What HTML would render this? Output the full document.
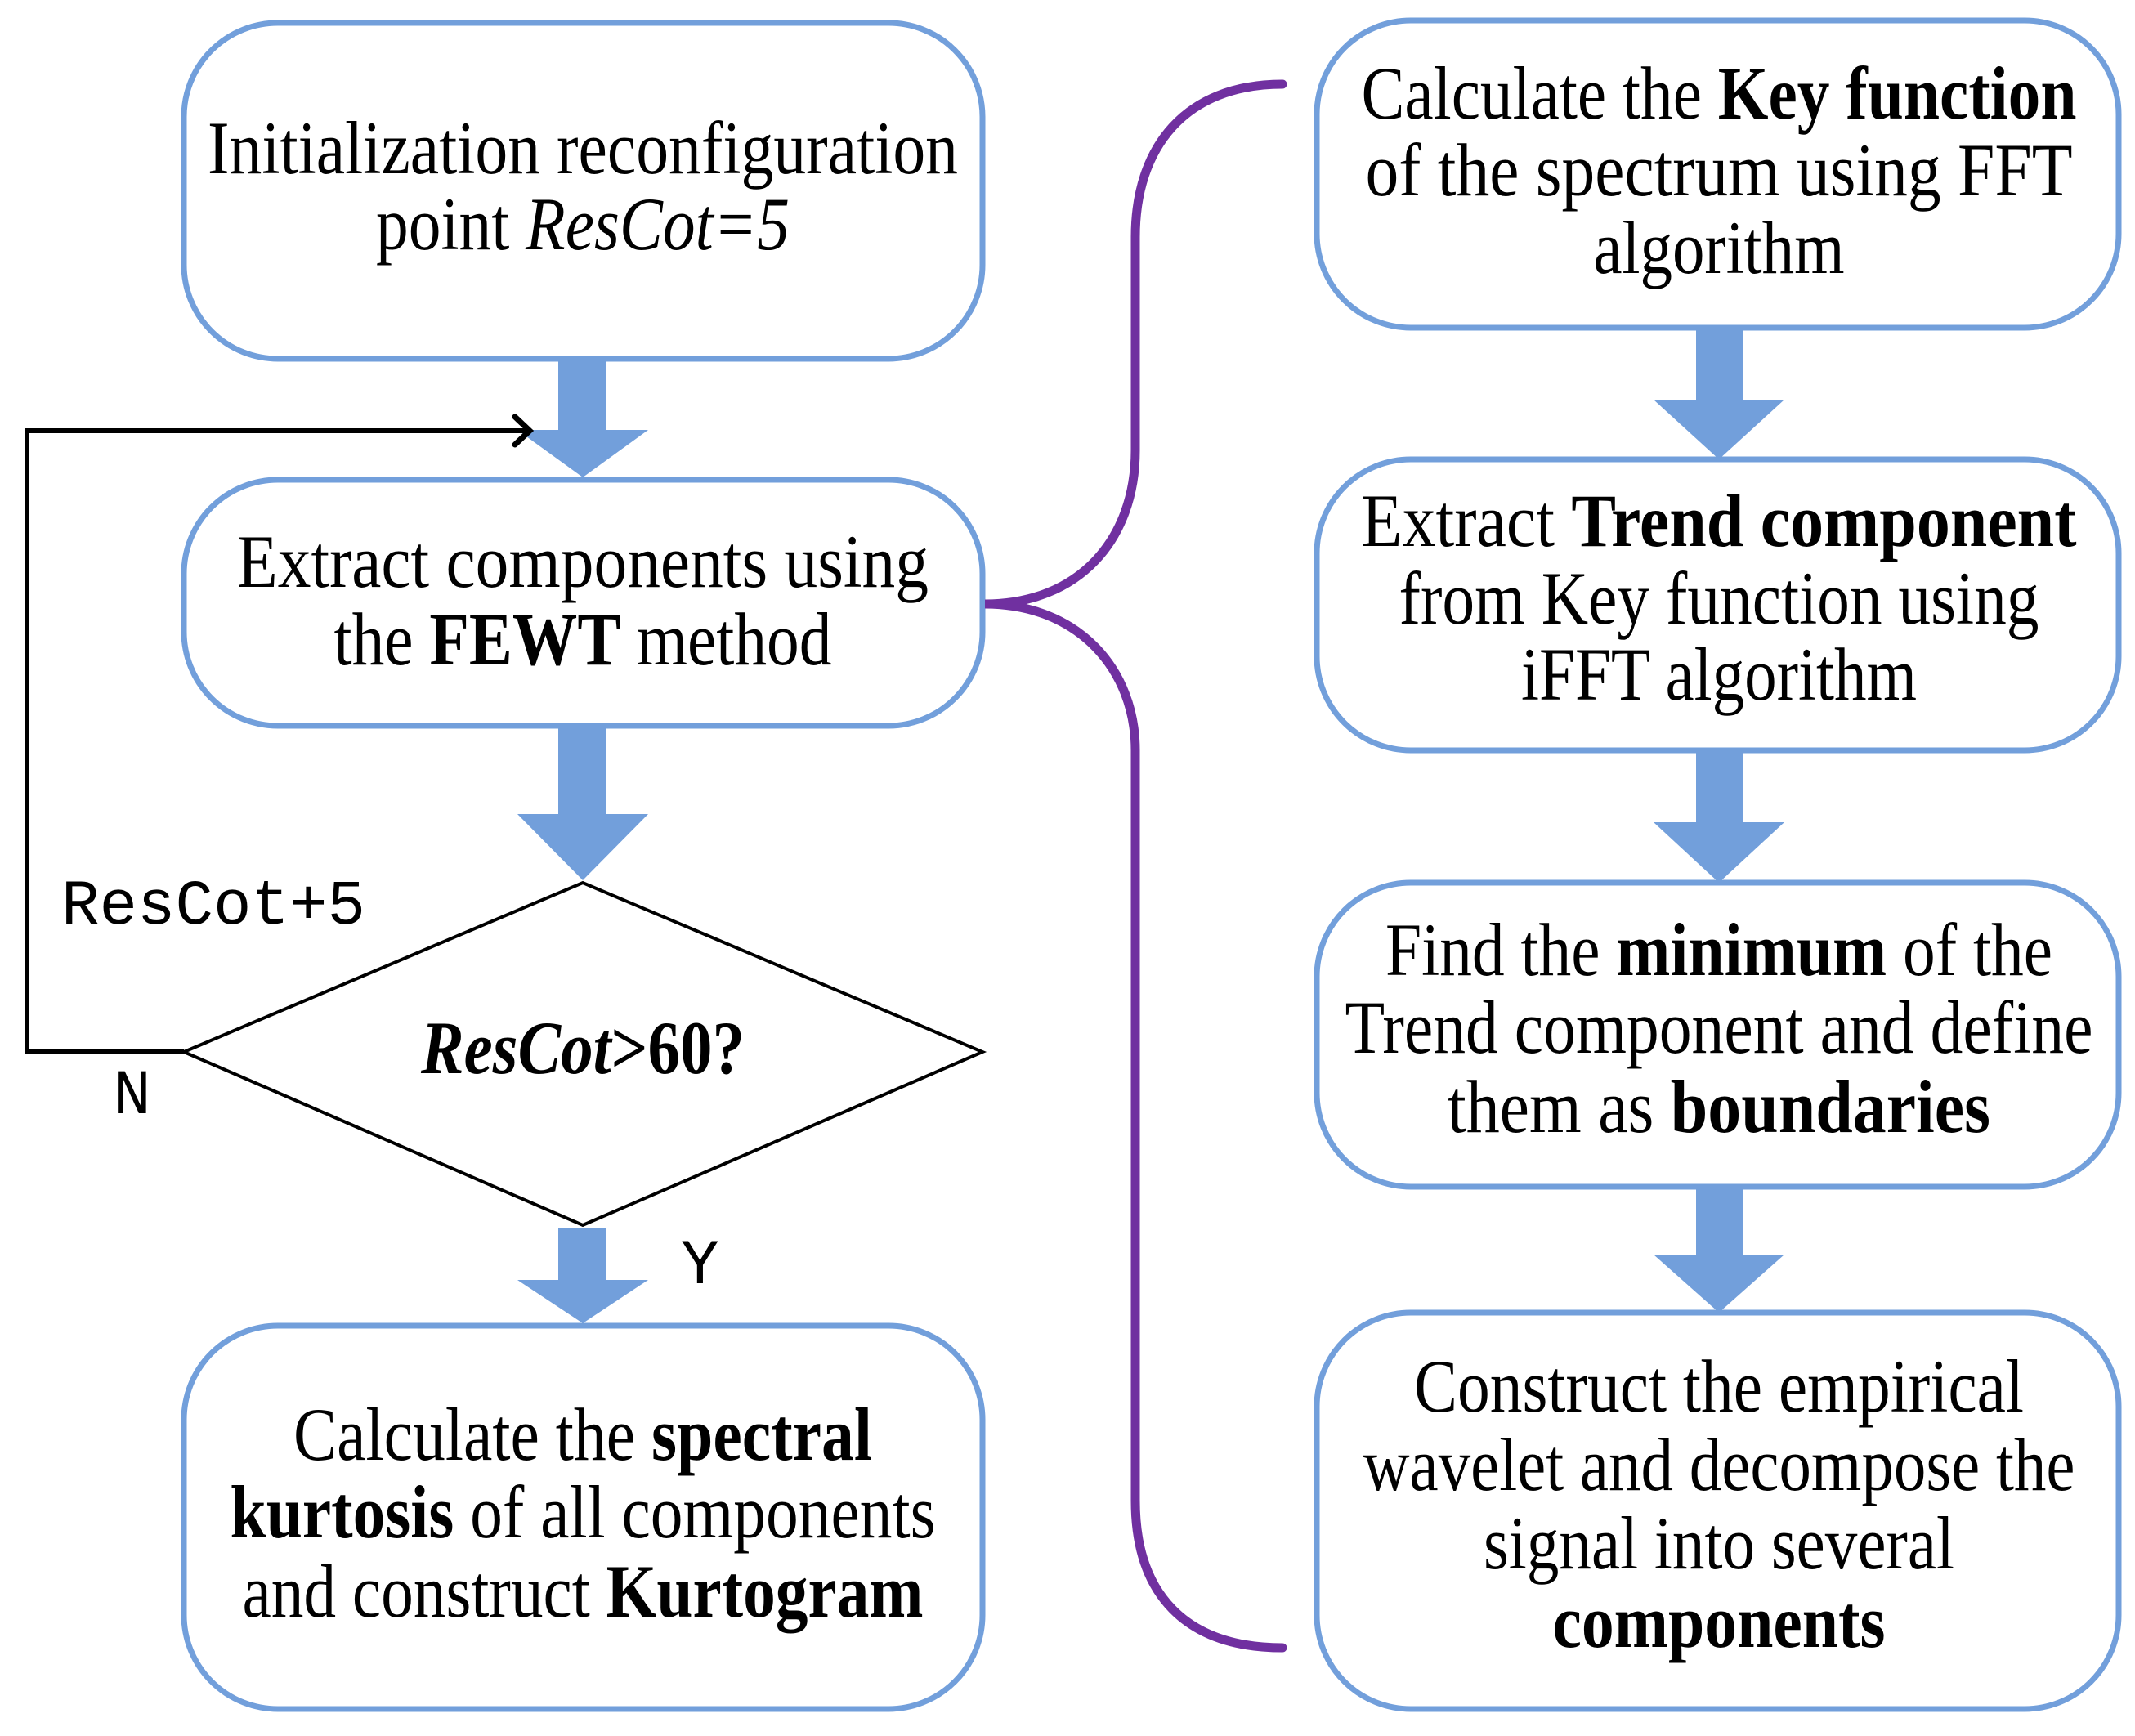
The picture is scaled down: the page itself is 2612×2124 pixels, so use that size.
<!DOCTYPE html>
<html><head><meta charset="utf-8"><style>html,body{margin:0;padding:0;background:#fff}svg{display:block}</style></head>
<body>
<svg width="2612" height="2124" viewBox="0 0 2612 2124" xmlns="http://www.w3.org/2000/svg">
<rect width="2612" height="2124" fill="#fff"/>
<g fill="#fff" stroke="#729fdb" stroke-width="7">
<rect x="225" y="28" width="977" height="411" rx="115"/>
<rect x="225" y="587" width="977" height="301" rx="115"/>
<rect x="225" y="1622" width="977" height="469" rx="115"/>
<rect x="1611" y="25" width="981" height="376" rx="115"/>
<rect x="1611" y="562" width="981" height="356" rx="115"/>
<rect x="1611" y="1080" width="981" height="372" rx="115"/>
<rect x="1611" y="1606" width="981" height="485" rx="115"/>
</g>
<g fill="#729fdb">
<polygon points="683,442 741,442 741,526 793,526 713,584 633,526 683,526"/>
<polygon points="683,891 741,891 741,996 793,996 713,1077 633,996 683,996"/>
<polygon points="683,1502 741,1502 741,1566 793,1566 713,1619 633,1566 683,1566"/>
<polygon points="2075,404 2133,404 2133,489 2183,489 2103,562 2023,489 2075,489"/>
<polygon points="2075,921 2133,921 2133,1006 2183,1006 2103,1080 2023,1006 2075,1006"/>
<polygon points="2075,1455 2133,1455 2133,1535 2183,1535 2103,1606 2023,1535 2075,1535"/>
</g>
<polygon points="225,1287 713,1080 1202,1287 713,1499" fill="#fff" stroke="#000" stroke-width="4"/>
<polyline points="225,1287 33,1287 33,527 645,527" fill="none" stroke="#000" stroke-width="6"/>
<polyline points="630,510 648,527 630,544" fill="none" stroke="#000" stroke-width="7" stroke-linecap="round"/>
<path d="M1569,103 C1450,103 1389,180 1389,290 L1389,551 C1389,660 1320,739 1205,739 C1320,739 1389,820 1389,918 L1389,1836 C1389,1950 1450,2016 1569,2016" fill="none" stroke="#7030a0" stroke-width="11" stroke-linecap="round"/>
<g font-family="Liberation Serif, serif" font-size="92" fill="#000" text-anchor="middle">
<text x="713" y="212" textLength="918" lengthAdjust="spacingAndGlyphs">Initialization reconfiguration</text>
<text x="713" y="305" textLength="506" lengthAdjust="spacingAndGlyphs">point <tspan font-style="italic">ResCot=5</tspan></text>
<text x="713" y="718" textLength="846" lengthAdjust="spacingAndGlyphs">Extract components  using</text>
<text x="713" y="813" textLength="609" lengthAdjust="spacingAndGlyphs">the <tspan font-weight="bold">FEWT</tspan> method</text>
<text x="713" y="1313" textLength="396" lengthAdjust="spacingAndGlyphs" font-weight="bold"><tspan font-style="italic">ResCot</tspan>&gt;60?</text>
<text x="713" y="1786" textLength="708" lengthAdjust="spacingAndGlyphs">Calculate the <tspan font-weight="bold">spectral</tspan></text>
<text x="713" y="1881" textLength="863" lengthAdjust="spacingAndGlyphs"><tspan font-weight="bold">kurtosis</tspan> of all components</text>
<text x="713" y="1978" textLength="833" lengthAdjust="spacingAndGlyphs">and construct <tspan font-weight="bold">Kurtogram</tspan></text>
<text x="2103" y="145" textLength="875" lengthAdjust="spacingAndGlyphs">Calculate the <tspan font-weight="bold">Key function</tspan></text>
<text x="2103" y="239" textLength="865" lengthAdjust="spacingAndGlyphs">of the spectrum  using FFT</text>
<text x="2103" y="334" textLength="307" lengthAdjust="spacingAndGlyphs">algorithm</text>
<text x="2103" y="668" textLength="875" lengthAdjust="spacingAndGlyphs">Extract  <tspan font-weight="bold">Trend component</tspan></text>
<text x="2103" y="763" textLength="783" lengthAdjust="spacingAndGlyphs">from Key function using</text>
<text x="2103" y="856" textLength="484" lengthAdjust="spacingAndGlyphs">iFFT algorithm</text>
<text x="2103" y="1193" textLength="816" lengthAdjust="spacingAndGlyphs">Find the <tspan font-weight="bold">minimum</tspan> of the</text>
<text x="2103" y="1288" textLength="915" lengthAdjust="spacingAndGlyphs">Trend component and define</text>
<text x="2103" y="1385" textLength="664" lengthAdjust="spacingAndGlyphs">them as  <tspan font-weight="bold">boundaries</tspan></text>
<text x="2103" y="1727" textLength="746" lengthAdjust="spacingAndGlyphs">Construct the empirical</text>
<text x="2103" y="1823" textLength="871" lengthAdjust="spacingAndGlyphs">wavelet and decompose the</text>
<text x="2103" y="1919" textLength="576" lengthAdjust="spacingAndGlyphs">signal into several</text>
<text x="2103" y="2015" textLength="407" lengthAdjust="spacingAndGlyphs" font-weight="bold">components</text>
</g>
<g font-family="Liberation Mono, monospace" font-size="78" fill="#000">
<text x="75" y="1130" textLength="372" lengthAdjust="spacingAndGlyphs">ResCot+5</text>
<text x="138" y="1362">N</text>
<text x="833" y="1570">Y</text>
</g>
</svg>
</body></html>
